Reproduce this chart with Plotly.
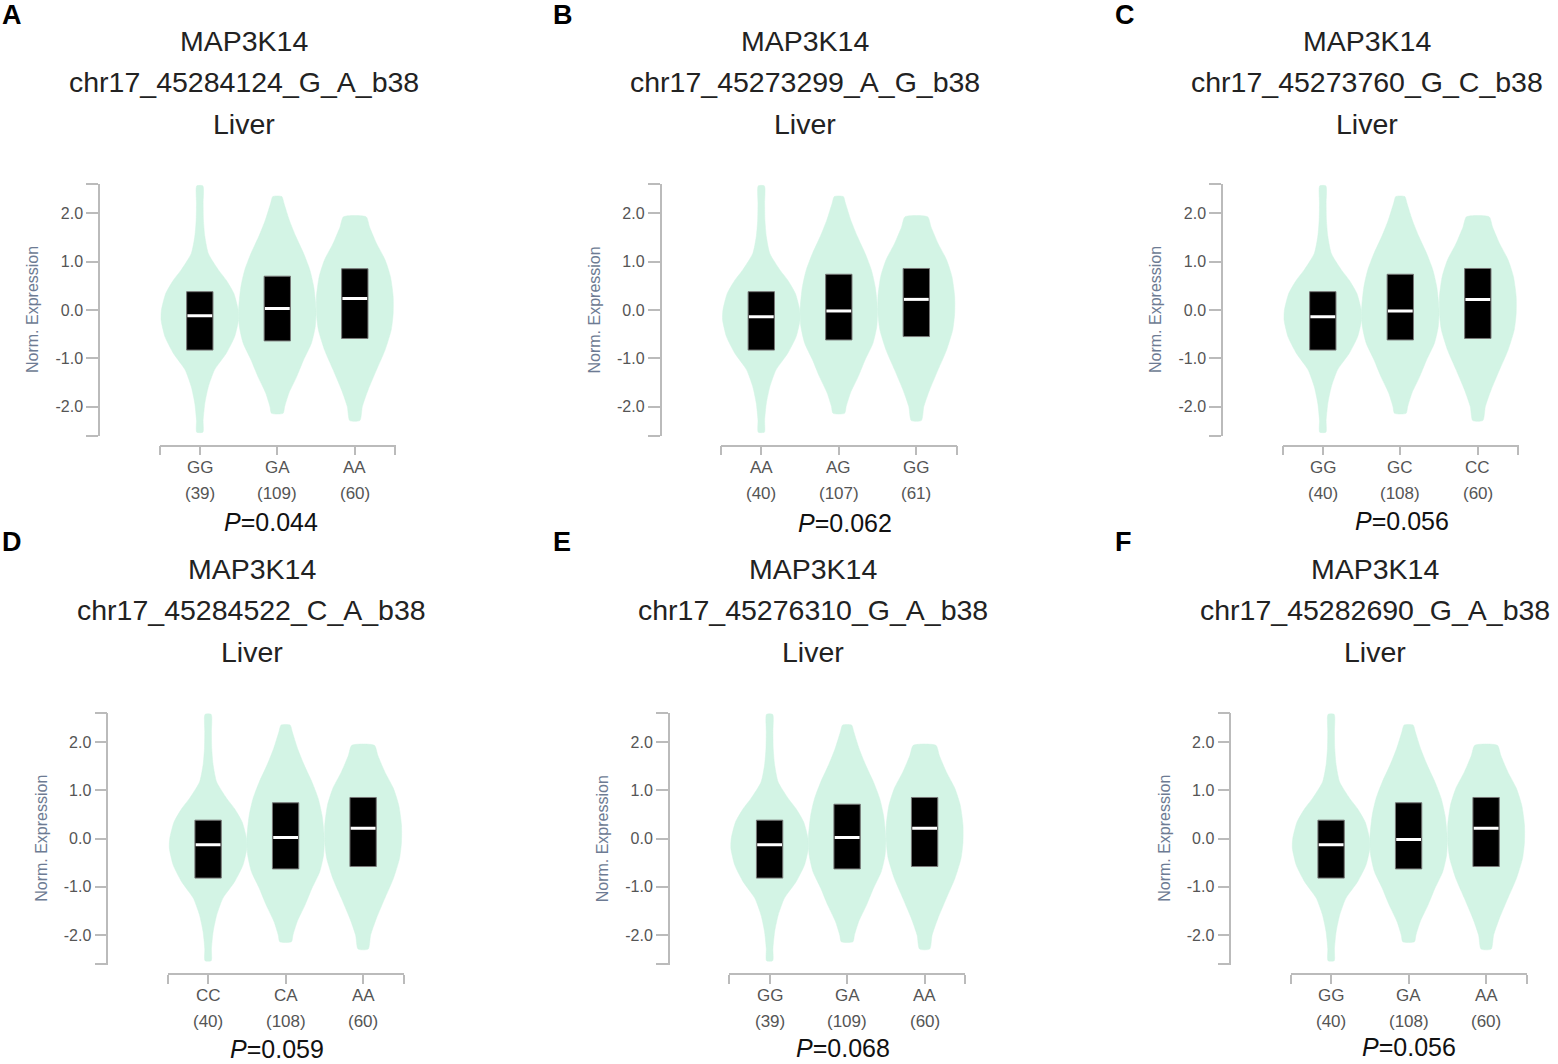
import plotly.graph_objects as go

# ---------------- data ----------------
gene = "MAP3K14"
tissue = "Liver"
panel_letters = ["A", "B", "C", "D", "E", "F"]
variants = [
    "chr17_45284124_G_A_b38",
    "chr17_45273299_A_G_b38",
    "chr17_45273760_G_C_b38",
    "chr17_45284522_C_A_b38",
    "chr17_45276310_G_A_b38",
    "chr17_45282690_G_A_b38",
]
genotypes = [
    ["GG", "GA", "AA"],
    ["AA", "AG", "GG"],
    ["GG", "GC", "CC"],
    ["CC", "CA", "AA"],
    ["GG", "GA", "AA"],
    ["GG", "GA", "AA"],
]
counts = [
    [39, 109, 60],
    [40, 107, 61],
    [40, 108, 60],
    [40, 108, 60],
    [39, 109, 60],
    [40, 108, 60],
]
p_values = ["0.044", "0.062", "0.056", "0.059", "0.068", "0.056"]

q1 = [
    [-0.83, -0.64, -0.59],
    [-0.83, -0.62, -0.55],
    [-0.83, -0.62, -0.59],
    [-0.82, -0.63, -0.58],
    [-0.82, -0.63, -0.58],
    [-0.82, -0.63, -0.58],
]
median = [
    [-0.12, 0.03, 0.24],
    [-0.14, -0.02, 0.22],
    [-0.14, -0.02, 0.22],
    [-0.13, 0.02, 0.21],
    [-0.13, 0.02, 0.21],
    [-0.13, -0.02, 0.21],
]
q3 = [
    [0.38, 0.70, 0.855],
    [0.38, 0.74, 0.86],
    [0.38, 0.74, 0.86],
    [0.38, 0.74, 0.85],
    [0.38, 0.71, 0.85],
    [0.38, 0.74, 0.85],
]

# violin density profiles (expression level, half width in category units)
violin1_y = [2.57, 2.21, 1.86, 1.52, 1.17, 0.83, 0.62, 0.34, 0.0, -0.2, -0.55, -0.9, -1.24, -1.59, -1.93, -2.28, -2.53]
violin1_w = [0.04, 0.043, 0.047, 0.065, 0.11, 0.24, 0.34, 0.44, 0.495, 0.5, 0.45, 0.34, 0.19, 0.11, 0.065, 0.043, 0.04]
violin2_y = [2.35, 2.21, 1.86, 1.52, 1.17, 0.83, 0.48, 0.0, -0.34, -0.69, -1.03, -1.38, -1.72, -2.0, -2.14]
violin2_w = [0.058, 0.086, 0.155, 0.24, 0.34, 0.42, 0.47, 0.5, 0.49, 0.44, 0.34, 0.25, 0.15, 0.095, 0.075]
violin3_y = [1.93, 1.72, 1.38, 1.04, 0.69, 0.28, -0.07, -0.41, -0.83, -1.24, -1.66, -2.0, -2.29]
violin3_w = [0.146, 0.19, 0.28, 0.39, 0.46, 0.495, 0.495, 0.47, 0.39, 0.28, 0.17, 0.097, 0.065]
violin_profiles = [(violin1_y, violin1_w), (violin2_y, violin2_w), (violin3_y, violin3_w)]

y_tick_vals = [-2, -1, 0, 1, 2]
y_tick_text = ["-2.0", "-1.0", "0.0", "1.0", "2.0"]

# ---------------- layout constants ----------------
W, H = 1558, 1064
FONT = "Liberation Sans, Arial, sans-serif"
VIOLIN_COLOR = "#d3f4e5"
AXIS_COLOR = "#bbbbbb"
TICK_COLOR = "#555555"
YTITLE_COLOR = "#6d7b93"
BOX_HALF = 0.17
X_RANGE = [-0.52, 2.525]
Y_RANGE = [-2.61, 2.61]
letter_x = [0, 551, 1113]
p_dx = [172, 184.8, 179.5, 169.8, 174.3, 178.2]
p_y = [521.7, 523, 521.5, 1048.5, 1048, 1047]


def fx(px):
    return px / W


def fy(py):
    return 1 - py / H


fig = go.Figure()
annotations = []
layout_axes = {}

for k in range(6):
    r, c = divmod(k, 3)
    ax = 99 + 561.5 * c + 8.3 * r
    top = 184 + 528.5 * r
    bot = 436 + 528.5 * r
    xline = 445.7 + 528.5 * r
    sfx = "" if k == 0 else str(k + 1)
    xa, ya = "x" + sfx, "y" + sfx

    layout_axes["xaxis" + sfx] = dict(
        domain=[fx(ax + 60.5), fx(ax + 296.5)], anchor="free", position=fy(xline),
        range=X_RANGE, tickmode="array",
        tickvals=[X_RANGE[0] + 0.001, 0, 1, 2, X_RANGE[1] - 0.001],
        ticktext=["", "", "", "", ""],
        ticks="outside", ticklen=9, tickcolor=AXIS_COLOR, tickwidth=1.5,
        showline=True, linecolor=AXIS_COLOR, linewidth=1.5,
        showgrid=False, zeroline=False, fixedrange=True,
        tickfont=dict(family=FONT, size=17, color=TICK_COLOR),
    )
    layout_axes["yaxis" + sfx] = dict(
        domain=[fy(bot), fy(top)], anchor="free", position=fx(ax),
        range=Y_RANGE, tickmode="array",
        tickvals=[Y_RANGE[0] + 0.001] + y_tick_vals + [Y_RANGE[1] - 0.001],
        ticktext=[""] + y_tick_text + [""],
        ticks="outside", ticklen=12, tickcolor=AXIS_COLOR, tickwidth=1.5,
        showline=True, linecolor=AXIS_COLOR, linewidth=1.5,
        showgrid=False, zeroline=False, fixedrange=True,
        tickfont=dict(family=FONT, size=16, color=TICK_COLOR),
    )

    # violins
    for i, (vy, vw) in enumerate(violin_profiles):
        xs = [i + w for w in vw] + [i - w for w in reversed(vw)]
        ys = list(vy) + list(reversed(vy))
        xs.append(xs[0])
        ys.append(ys[0])
        fig.add_trace(go.Scatter(
            x=xs, y=ys, xaxis=xa, yaxis=ya, mode="lines", fill="toself",
            fillcolor=VIOLIN_COLOR, line=dict(color=VIOLIN_COLOR, width=0.5, shape="spline", smoothing=0.6),
            hoverinfo="skip", showlegend=False,
        ))
    # boxes
    for i in range(3):
        fig.add_trace(go.Scatter(
            x=[i - BOX_HALF, i + BOX_HALF, i + BOX_HALF, i - BOX_HALF, i - BOX_HALF],
            y=[q1[k][i], q1[k][i], q3[k][i], q3[k][i], q1[k][i]],
            xaxis=xa, yaxis=ya, mode="lines", fill="toself", fillcolor="black",
            line=dict(color="#777777", width=1), hoverinfo="skip", showlegend=False,
        ))
        fig.add_trace(go.Scatter(
            x=[i - BOX_HALF + 0.01, i + BOX_HALF - 0.01], y=[median[k][i], median[k][i]],
            xaxis=xa, yaxis=ya, mode="lines", line=dict(color="white", width=3),
            hoverinfo="skip", showlegend=False,
        ))
        # genotype label and sample count under each category
        annotations.append(dict(
            x=i, xref=xa, y=fy(467 + 528.5 * r), yref="paper",
            text=genotypes[k][i], showarrow=False, xanchor="center", yanchor="middle",
            font=dict(family=FONT, size=17, color=TICK_COLOR),
        ))
        annotations.append(dict(
            x=i, xref=xa, y=fy(493 + 528.5 * r), yref="paper",
            text="(%d)" % counts[k][i], showarrow=False, xanchor="center", yanchor="middle",
            font=dict(family=FONT, size=17, color=TICK_COLOR),
        ))

    # titles
    for j, line in enumerate([gene, variants[k], tissue]):
        annotations.append(dict(
            x=fx(ax + 144.5), xref="paper", y=fy([41, 82, 124][j] + 528 * r), yref="paper",
            text=line, showarrow=False, xanchor="center", yanchor="middle",
            font=dict(family=FONT, size=28.5, color="#222222"),
        ))
    # panel letter
    annotations.append(dict(
        x=fx(letter_x[c]), xref="paper", y=fy(15 + 527 * r), yref="paper",
        text="<b>%s</b>" % panel_letters[k], showarrow=False, xanchor="left", yanchor="middle",
        font=dict(family=FONT, size=27, color="black"),
    ))
    # y-axis title
    annotations.append(dict(
        x=fx(ax - 66), xref="paper", y=fy(310 + 528.5 * r), yref="paper",
        text="Norm. Expression", textangle=-90, showarrow=False,
        xanchor="center", yanchor="middle",
        font=dict(family=FONT, size=16, color=YTITLE_COLOR),
    ))
    # p-value
    annotations.append(dict(
        x=fx(ax + p_dx[k]), xref="paper", y=fy(p_y[k]), yref="paper",
        text="<i>P</i>=" + p_values[k], showarrow=False, xanchor="center", yanchor="middle",
        font=dict(family=FONT, size=25, color="#111111"),
    ))

fig.update_layout(
    width=W, height=H, margin=dict(l=0, r=0, t=0, b=0),
    paper_bgcolor="white", plot_bgcolor="white",
    showlegend=False, annotations=annotations, **layout_axes,
)

fig.write_html(
    "out.html",
    config={"displayModeBar": False},
    post_script="document.body.style.margin='0';document.body.style.overflow='hidden';",
)
